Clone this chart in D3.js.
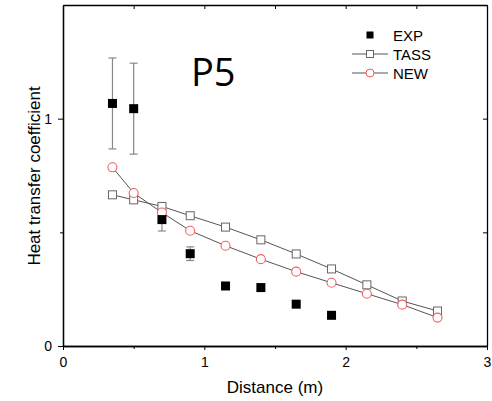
<!DOCTYPE html>
<html>
<head>
<meta charset="utf-8">
<script src="https://cdn.jsdelivr.net/npm/d3@7"></script>
<style>
  body { margin: 0; background: #fff; }
  svg { display: block; font-family: "Liberation Sans", Arial, sans-serif; }
</style>
</head>
<body>
<svg></svg>
<script>
// distances (m)
let expX = [0.35, 0.5, 0.7, 0.9, 1.15, 1.4, 1.65, 1.9];
let expY = [1.067, 1.044, 0.556, 0.406, 0.264, 0.257, 0.184, 0.135];
let expErr = [0.2, 0.2, 0.05, 0.03, 0, 0, 0, 0];

let modelX = [0.35, 0.5, 0.7, 0.9, 1.15, 1.4, 1.65, 1.9, 2.15, 2.4, 2.65];
let tassY = [0.665, 0.643, 0.614, 0.573, 0.523, 0.467, 0.405, 0.339, 0.269, 0.198, 0.154];
let newY = [0.786, 0.673, 0.587, 0.507, 0.441, 0.382, 0.327, 0.278, 0.230, 0.182, 0.125];

let xTicks = [0, 1, 2, 3];
let xMinor = [0.5, 1.5, 2.5];
let yTicks = [0, 1];
let yMinor = [0.5];

let width = 492;
let height = 401;
let padLeft = 63, padRight = 487, padTop = 5, padBottom = 346;

let svg = d3.select('svg').attr('width', width).attr('height', height);

let xScale = d3.scaleLinear().domain([0, 3]).range([padLeft, padRight]);
let yScale = d3.scaleLinear().domain([0, 1.5]).range([padBottom, padTop]);

// axes
const axisStyle = (g) => {
    g.select('.domain').attr('stroke', '#000').attr('stroke-width', 1.3);
    g.selectAll('.tick line').attr('stroke', '#000').attr('stroke-width', 1);
    g.selectAll('.tick text').attr('font-size', 14).attr('fill', '#000')
        .attr('font-family', '"Liberation Sans", Arial, sans-serif');
};

svg.append('g')
    .attr('transform', `translate(0, ${padBottom})`)
    .call(d3.axisBottom(xScale).tickValues(xTicks).tickFormat(d3.format('d')).tickSize(4).tickSizeOuter(0).tickPadding(7))
    .call(axisStyle);
svg.append('g')
    .attr('transform', `translate(0, ${padBottom})`)
    .call(d3.axisBottom(xScale).tickValues(xMinor).tickFormat('').tickSize(3).tickSizeOuter(0))
    .call(axisStyle);

svg.append('g')
    .attr('transform', `translate(${padLeft}, 0)`)
    .call(d3.axisLeft(yScale).tickValues(yTicks).tickFormat(d3.format('d')).tickSize(5).tickSizeOuter(0).tickPadding(6))
    .call(axisStyle);
svg.append('g')
    .attr('transform', `translate(${padLeft}, 0)`)
    .call(d3.axisLeft(yScale).tickValues(yMinor).tickFormat('').tickSize(3).tickSizeOuter(0))
    .call(axisStyle);

// top and right axes, inward ticks, no labels
svg.append('g')
    .attr('transform', `translate(0, ${padTop})`)
    .call(d3.axisBottom(xScale).tickValues(xTicks.concat(xMinor)).tickFormat('').tickSize(4).tickSizeOuter(0))
    .call(axisStyle);
svg.append('g')
    .attr('transform', `translate(${padRight}, 0)`)
    .call(d3.axisLeft(yScale).tickValues(yTicks.concat(yMinor)).tickFormat('').tickSize(4).tickSizeOuter(0))
    .call(axisStyle);

// axis titles
svg.append('text')
    .attr('x', 275)
    .attr('y', 393)
    .attr('text-anchor', 'middle')
    .attr('font-size', 17)
    .text('Distance (m)');

svg.append('text')
    .attr('transform', `translate(40, 176) rotate(-90)`)
    .attr('text-anchor', 'middle')
    .attr('font-size', 17)
    .text('Heat transfer coefficient');

svg.append('text')
    .attr('x', 191)
    .attr('y', 86)
    .attr('font-size', 38)
    .attr('font-family', '"Open Sans", sans-serif')
    .text('P5');

let line = d3.line().x((d) => xScale(d[0])).y((d) => yScale(d[1]));

let tassData = modelX.map((x, i) => [x, tassY[i]]);
let newData = modelX.map((x, i) => [x, newY[i]]);
let expData = expX.map((x, i) => [x, expY[i], expErr[i]]);

svg.append('path').datum(tassData).attr('d', line)
    .attr('fill', 'none').attr('stroke', '#555').attr('stroke-width', 1);
svg.append('path').datum(newData).attr('d', line)
    .attr('fill', 'none').attr('stroke', '#555').attr('stroke-width', 1);

// error bars
let eb = svg.append('g').attr('stroke', '#888').attr('stroke-width', 1.2);
expData.filter((d) => d[2] > 0).forEach((d) => {
    let cx = xScale(d[0]);
    eb.append('line').attr('x1', cx).attr('x2', cx)
        .attr('y1', yScale(d[1] + d[2])).attr('y2', yScale(d[1] - d[2]));
    [d[1] + d[2], d[1] - d[2]].forEach((v) => {
        eb.append('line').attr('x1', cx - 4).attr('x2', cx + 4)
            .attr('y1', yScale(v)).attr('y2', yScale(v));
    });
});

svg.selectAll('.tass')
    .data(tassData).enter().append('rect')
    .attr('x', (d) => xScale(d[0]) - 4)
    .attr('y', (d) => yScale(d[1]) - 4)
    .attr('width', 8).attr('height', 8)
    .attr('fill', '#fff').attr('stroke', '#666').attr('stroke-width', 1);

svg.selectAll('.newc')
    .data(newData).enter().append('circle')
    .attr('cx', (d) => xScale(d[0]))
    .attr('cy', (d) => yScale(d[1]))
    .attr('r', 4.5)
    .attr('fill', '#fff').attr('stroke', '#f06060').attr('stroke-width', 1.1);

svg.selectAll('.exp')
    .data(expData).enter().append('rect')
    .attr('x', (d) => xScale(d[0]) - 4.5)
    .attr('y', (d) => yScale(d[1]) - 4.5)
    .attr('width', 9).attr('height', 9)
    .attr('fill', '#000');

// legend
let legend = svg.append('g');
let legendItems = ['EXP', 'TASS', 'NEW'];
legendItems.forEach((name, i) => {
    let y = 35 + i * 19;
    let cx = 370;
    if (i > 0) {
        legend.append('line').attr('x1', 352).attr('x2', 388).attr('y1', y).attr('y2', y)
            .attr('stroke', '#555').attr('stroke-width', 1);
    }
    if (i === 0) {
        legend.append('rect').attr('x', cx - 3.5).attr('y', y - 3.5).attr('width', 7).attr('height', 7).attr('fill', '#000');
    } else if (i === 1) {
        legend.append('rect').attr('x', cx - 3.5).attr('y', y - 3.5).attr('width', 7).attr('height', 7)
            .attr('fill', '#fff').attr('stroke', '#666');
    } else {
        legend.append('circle').attr('cx', cx).attr('cy', y).attr('r', 4)
            .attr('fill', '#fff').attr('stroke', '#f06060');
    }
    legend.append('text').attr('x', 393).attr('y', y + 5.5).attr('font-size', 15).text(name);
});
</script>
</body>
</html>
